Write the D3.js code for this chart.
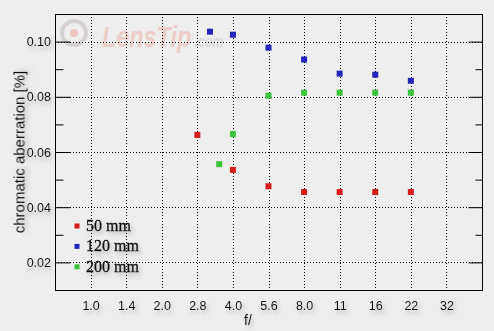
<!DOCTYPE html>
<html>
<head>
<meta charset="utf-8">
<script src="https://cdn.jsdelivr.net/npm/d3@7"></script>
<style>
  body { margin: 0; background: #eeeeee; }
  svg { display: block; }
  .tick-label { font-family: "Liberation Sans", Arial, sans-serif; font-size: 12.5px; fill: #111; }
</style>
</head>
<body>
<script>
(function(){

    //aperture tick labels (full stops)
    var apertureLabels = ["1.0", "1.4", "2.0", "2.8", "4.0", "5.6", "8.0", "11", "16", "22", "32"];

    //y tick values
    var yMajor = [0.02, 0.04, 0.06, 0.08, 0.10];
    var yMinor = [0.03, 0.05, 0.07, 0.09];

    //series names and colours
    var seriesNames = ["50 mm", "120 mm", "200 mm"];
    var seriesColors = ["#d41c1c", "#2424b8", "#3cc43c"];

    //50 mm
    var f50 = [2.8, 4, 5.6, 8, 11, 16, 22];
    var ca50 = [0.0662, 0.0535, 0.0476, 0.0455, 0.0455, 0.0455, 0.0455];

    //120 mm
    var f120 = [3.2, 4, 5.6, 8, 11, 16, 22];
    var ca120 = [0.1036, 0.1025, 0.0978, 0.0935, 0.0884, 0.0880, 0.0858];

    //200 mm
    var f200 = [3.5, 4, 5.6, 8, 11, 16, 22];
    var ca200 = [0.0556, 0.0665, 0.0804, 0.0815, 0.0815, 0.0815, 0.0815];

    var width = 494, height = 331;
    var left = 55, right = 482, top = 14, bottom = 290;

    var svg = d3.select("body").append("svg")
        .attr("width", width)
        .attr("height", height);

    //soft grey shadow used under the texts
    var defs = svg.append("defs");
    var filter = defs.append("filter")
        .attr("id", "shadow")
        .attr("x", "-20%").attr("y", "-30%")
        .attr("width", "150%").attr("height", "180%");
    filter.append("feDropShadow")
        .attr("dx", 2).attr("dy", 3)
        .attr("stdDeviation", 2)
        .attr("flood-color", "#777")
        .attr("flood-opacity", 0.5);

    svg.append("rect")
        .attr("width", width).attr("height", height)
        .attr("fill", "#eeeeee");

    //x is in stops from f/1.0, nominal values snap to the full stop
    function stop(f) {
        var s = 2 * Math.log2(f);
        return Math.abs(s - Math.round(s)) < 0.1 ? Math.round(s) : s;
    }

    var x = d3.scaleLinear().domain([-1, 11]).range([left, right]);
    var y = d3.scaleLinear().domain([0.01, 0.11]).range([bottom, top]);

    //watermark
    var wm = svg.append("g");
    wm.append("circle")
        .attr("cx", 74).attr("cy", 33).attr("r", 12)
        .attr("fill", "none").attr("stroke", "#d6d2d2").attr("stroke-width", 4);
    wm.append("circle")
        .attr("cx", 74).attr("cy", 33).attr("r", 4)
        .attr("fill", "#ecc4c0");
    var wmText = wm.append("text")
        .attr("transform", "translate(102,47) scale(0.78,1)")
        .style("font-family", "'Liberation Sans', Arial, sans-serif")
        .style("font-style", "italic")
        .style("font-weight", "bold");
    wmText.append("tspan")
        .style("font-size", "30px")
        .attr("fill", "#edcdc8")
        .text("LensTip");
    wmText.append("tspan")
        .attr("dx", 4)
        .style("font-size", "16px")
        .attr("fill", "#d8d8d8")
        .text(".com");

    //vertical dotted grid
    svg.append("g")
        .selectAll("line")
        .data(d3.range(apertureLabels.length))
        .enter()
        .append("line")
        .attr("x1", function(d) { return Math.round(x(d)) + 0.5; })
        .attr("x2", function(d) { return Math.round(x(d)) + 0.5; })
        .attr("y1", top).attr("y2", bottom)
        .attr("stroke", "#000")
        .attr("stroke-dasharray", "1,2");

    //horizontal dotted grid
    svg.append("g")
        .selectAll("line")
        .data(yMajor)
        .enter()
        .append("line")
        .attr("x1", left).attr("x2", right)
        .attr("y1", function(d) { return Math.round(y(d)) + 0.5; })
        .attr("y2", function(d) { return Math.round(y(d)) + 0.5; })
        .attr("stroke", "#000")
        .attr("stroke-dasharray", "1,2");

    //inward ticks on both sides
    function ticks(axis, xpos, values, size) {
        var g = svg.append("g")
            .attr("transform", "translate(" + xpos + ",0)")
            .call(axis(y).tickValues(values).tickSize(size).tickFormat(""));
        g.select(".domain").remove();
        g.selectAll("line").attr("stroke", "#000");
    }
    ticks(d3.axisRight, left + 0.5, yMajor, 15);
    ticks(d3.axisRight, left + 0.5, yMinor, 8);
    ticks(d3.axisLeft, right + 0.5, yMajor, 14);
    ticks(d3.axisLeft, right + 0.5, yMinor, 7);

    //frame
    svg.append("rect")
        .attr("x", left + 0.5).attr("y", top + 0.5)
        .attr("width", right - left).attr("height", bottom - top)
        .attr("fill", "none")
        .attr("stroke", "#000");

    //tick labels
    var yLab = svg.append("g")
        .attr("transform", "translate(" + left + ",0)")
        .attr("filter", "url(#shadow)")
        .call(d3.axisLeft(y).tickValues(yMajor).tickSize(0).tickPadding(4).tickFormat(d3.format(".2f")));
    yLab.select(".domain").remove();
    yLab.selectAll("text").attr("class", "tick-label").attr("font-family", null).attr("font-size", null);

    var xLab = svg.append("g")
        .attr("transform", "translate(0," + bottom + ")")
        .attr("filter", "url(#shadow)")
        .call(d3.axisBottom(x).tickValues(d3.range(apertureLabels.length)).tickSize(0).tickPadding(11)
            .tickFormat(function(i) { return apertureLabels[i]; }));
    xLab.select(".domain").remove();
    xLab.selectAll("text").attr("class", "tick-label").attr("font-family", null).attr("font-size", null);

    //axis titles
    svg.append("text")
        .attr("class", "tick-label")
        .attr("filter", "url(#shadow)")
        .attr("x", 244).attr("y", 325)
        .style("font-size", "14px")
        .text("f/");

    svg.append("text")
        .attr("class", "tick-label")
        .attr("filter", "url(#shadow)")
        .attr("transform", "translate(24.5," + ((top + bottom) / 2) + ") rotate(-90)")
        .attr("text-anchor", "middle")
        .style("font-size", "15px")
        .text("chromatic aberration [%]");

    //points
    var seriesData = [[f50, ca50], [f120, ca120], [f200, ca200]];
    var size = 6;
    seriesData.forEach(function(s, k) {
        var pts = s[0].map(function(f, i) { return {f: f, v: s[1][i]}; });
        svg.append("g")
            .selectAll("rect")
            .data(pts)
            .enter()
            .append("rect")
            .attr("x", function(d) { return x(stop(d.f)) - size / 2; })
            .attr("y", function(d) { return y(d.v) - size / 2; })
            .attr("width", size).attr("height", size)
            .attr("fill", seriesColors[k]);
    });

    //legend
    var legend = svg.append("g")
        .selectAll("g")
        .data(seriesNames)
        .enter()
        .append("g")
        .attr("transform", function(d, i) { return "translate(77," + (226 + i * 20.4) + ")"; });
    legend.append("rect")
        .attr("x", -2.5).attr("y", -2.5)
        .attr("width", 5).attr("height", 5)
        .attr("fill", function(d, i) { return seriesColors[i]; });
    legend.append("text")
        .attr("x", 9).attr("y", 5)
        .style("font-family", "'Liberation Serif', 'Times New Roman', serif")
        .style("font-size", "16px")
        .attr("fill", "#111")
        .attr("stroke", "#111")
        .attr("stroke-width", 0.35)
        .attr("filter", "url(#shadow)")
        .text(function(d) { return d; });
})();
</script>
</body>
</html>
